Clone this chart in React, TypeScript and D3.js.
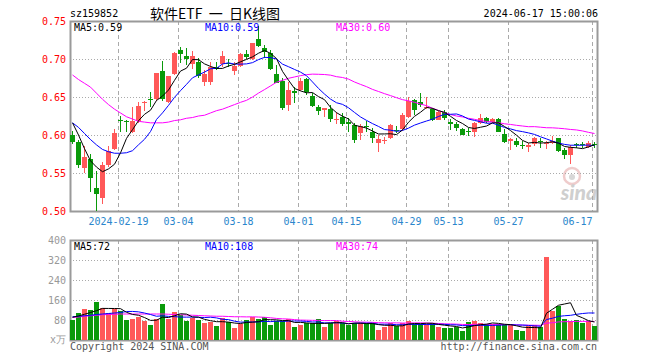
import { useEffect, useRef } from 'react';
import * as d3 from 'd3';

// daily candles, 2024-01-30 .. 2024-06-17 (88 trading days)
const opens = [
  0.600, 0.591, 0.557, 0.568, 0.530, 0.517, 0.5605, 0.5816, 0.620, 0.619,
  0.604, 0.618, 0.642, 0.648, 0.647, 0.684, 0.644, 0.680, 0.712, 0.704,
  0.693, 0.6965, 0.670, 0.670, 0.690, 0.693, 0.695, 0.6845, 0.691, 0.706,
  0.6995, 0.726, 0.714, 0.708, 0.680, 0.671, 0.640, 0.658, 0.659, 0.6737,
  0.651, 0.637, 0.633, 0.634, 0.6195, 0.624, 0.6175, 0.613, 0.603, 0.6125,
  0.6045, 0.589, 0.593, 0.5955, 0.6066, 0.6075, 0.6235, 0.646, 0.643, 0.635,
  0.6345, 0.620, 0.6305, 0.6175, 0.6145, 0.6075, 0.605, 0.6035, 0.6155, 0.622,
  0.6167, 0.621, 0.6013, 0.592, 0.592, 0.5875, 0.5846, 0.5877, 0.5917, 0.5882,
  0.589, 0.5956, 0.5803, 0.5737, 0.5877, 0.5877, 0.5846, 0.5882,
];
const highs = [
  0.605, 0.593, 0.585, 0.575, 0.552, 0.564, 0.585, 0.608, 0.625, 0.620,
  0.637, 0.644, 0.645, 0.656, 0.682, 0.698, 0.678, 0.709, 0.716, 0.714,
  0.7105, 0.701, 0.6855, 0.6965, 0.6965, 0.7105, 0.6995, 0.6965, 0.7075, 0.7125,
  0.7215, 0.743, 0.718, 0.7125, 0.692, 0.675, 0.670, 0.6635, 0.6745, 0.675,
  0.655, 0.640, 0.6355, 0.6395, 0.6305, 0.6295, 0.623, 0.6155, 0.614, 0.6185,
  0.609, 0.600, 0.597, 0.614, 0.612, 0.6285, 0.6495, 0.648, 0.655, 0.650,
  0.635, 0.631, 0.633, 0.6205, 0.6175, 0.609, 0.609, 0.6175, 0.627, 0.624,
  0.623, 0.6228, 0.608, 0.5956, 0.5956, 0.592, 0.589, 0.597, 0.5956, 0.5921,
  0.599, 0.596, 0.5833, 0.5868, 0.589, 0.5904, 0.5921, 0.5904,
];
const lows = [
  0.588, 0.557, 0.550, 0.525, 0.500, 0.509, 0.558, 0.5805, 0.604, 0.604,
  0.603, 0.616, 0.631, 0.637, 0.645, 0.645, 0.642, 0.679, 0.695, 0.692,
  0.687, 0.6745, 0.665, 0.666, 0.6855, 0.690, 0.690, 0.679, 0.690, 0.700,
  0.6985, 0.716, 0.701, 0.6855, 0.668, 0.633, 0.632, 0.6415, 0.658, 0.6526,
  0.637, 0.626, 0.624, 0.6175, 0.615, 0.612, 0.604, 0.590, 0.5935, 0.6045,
  0.589, 0.577, 0.588, 0.595, 0.603, 0.6055, 0.622, 0.6265, 0.637, 0.634,
  0.619, 0.6195, 0.620, 0.6065, 0.6055, 0.5995, 0.599, 0.598, 0.6145, 0.6155,
  0.6155, 0.6035, 0.589, 0.580, 0.5846, 0.581, 0.577, 0.586, 0.5825, 0.581,
  0.588, 0.578, 0.568, 0.5614, 0.5825, 0.583, 0.5825, 0.583,
];
const closes = [
  0.591, 0.5605, 0.5715, 0.544, 0.522, 0.5605, 0.579, 0.602, 0.619, 0.617,
  0.618, 0.638, 0.644, 0.646, 0.681, 0.647, 0.678, 0.7075, 0.707, 0.700,
  0.704, 0.677, 0.680, 0.690, 0.687, 0.704, 0.693, 0.691, 0.7065, 0.703,
  0.7205, 0.717, 0.7095, 0.687, 0.669, 0.636, 0.659, 0.655, 0.6715, 0.656,
  0.638, 0.632, 0.635, 0.621, 0.621, 0.6145, 0.6145, 0.5935, 0.612, 0.611,
  0.5955, 0.5945, 0.594, 0.6132, 0.6053, 0.6263, 0.645, 0.633, 0.640, 0.637,
  0.620, 0.630, 0.622, 0.614, 0.6095, 0.600, 0.604, 0.6155, 0.622, 0.6175,
  0.621, 0.6044, 0.5912, 0.5952, 0.5868, 0.5868, 0.5873, 0.5956, 0.5904, 0.5895,
  0.5921, 0.5789, 0.5737, 0.5846, 0.5864, 0.5868, 0.5899, 0.5877,
];
// volume, 10k shares
const volumes = [
  81, 108, 124, 120, 153, 127, 107, 123, 117, 80,
  84, 91, 77, 60, 84, 144, 84, 113, 100, 77,
  87, 81, 68, 73, 57, 87, 73, 49, 63, 80,
  91, 84, 91, 60, 77, 77, 84, 53, 61, 67,
  67, 84, 53, 67, 76, 67, 60, 67, 67, 67,
  67, 40, 53, 67, 56, 67, 76, 64, 64, 64,
  67, 52, 49, 49, 53, 38, 72, 76, 67, 63,
  63, 63, 59, 59, 40, 36, 56, 59, 51, 333,
  116, 136, 84, 76, 80, 68, 78, 58,
];

// averages at the left edge (their windows start before the first candle)
const ma5Head = [0.616, 0.600, 0.582, 0.566];
const ma10Head = [0.616, 0.610, 0.602, 0.594, 0.587, 0.581, 0.578, 0.576, 0.576];
const ma30Head = [
  0.679, 0.673, 0.668, 0.663, 0.655, 0.647, 0.640, 0.634, 0.629, 0.624,
  0.621, 0.618, 0.617, 0.616, 0.616, 0.616, 0.617, 0.619, 0.620, 0.622,
  0.623, 0.625, 0.626, 0.629, 0.632, 0.634, 0.637, 0.640, 0.643,
];
const volMa5Head = [91, 96, 103, 110];
const volMa10Head = [93, 95, 97, 99, 102, 104, 106, 108, 110];
const volMa30Head = [
  90, 92, 95, 97, 99, 101, 102, 103, 104, 104,
  104, 104, 104, 104, 104, 104, 103, 102, 101, 100,
  99, 98, 97, 96, 95, 95, 94, 93, 93,
];

const priceTicks = [0.5, 0.55, 0.6, 0.65, 0.7, 0.75];
const volTicks = [80, 160, 240, 320, 400];
const dateTickIdx = [8, 18, 28, 38, 46, 56, 63, 73, 87];
const dateTickLabels = ['2024-02-19', '03-04', '03-18', '04-01', '04-15', '04-29', '05-13', '05-27', '06-17'];

const movingAvg = (vals: number[], n: number, head: number[]) =>
  vals.map((_, i) => (i < head.length ? head[i] : (d3.mean(vals.slice(i - n + 1, i + 1)) as number)));

const App = () => {
  const ref = useRef<SVGSVGElement>(null);

  useEffect(() => {
    document.body.style.margin = '0';
    const svg = d3.select(ref.current);
    svg.selectAll('*').remove();

    const mono = '"DejaVu Sans Mono", monospace';
    const left = 70, right = 598;
    const pTop = 21, pBot = 211, vTop = 240, vBot = 340;
    const red = '#ff5858', green = '#0a9a0a', grid = '#aaaaaa';

    const n = closes.length;
    const x = d3.scaleBand<number>().domain(d3.range(n)).range([left, right])
      .paddingInner(1 / 6).paddingOuter(1 / 12).align(0);
    const cx = (i: number) => (x(i) as number) + x.bandwidth() / 2;
    const y = d3.scaleLinear().domain([0.5, 0.75]).range([pBot, pTop]);
    const vy = d3.scaleLinear().domain([0, 400]).range([vBot, vTop]);

    const up = (i: number) => closes[i] >= opens[i];

    // header
    svg.append('text').attr('x', 70).attr('y', 13).attr('dominant-baseline', 'central')
      .attr('font-family', mono).attr('font-size', 10).text('sz159852');
    svg.append('text').attr('x', 150).attr('y', 13).attr('dominant-baseline', 'central')
      .attr('font-family', '"Noto Sans CJK SC", sans-serif').attr('font-size', 14)
      .attr('xml:space', 'preserve').text('软件ETF  一  日K线图');
    svg.append('text').attr('x', right).attr('y', 13).attr('dominant-baseline', 'central')
      .attr('text-anchor', 'end').attr('font-family', mono).attr('font-size', 10).text('2024-06-17 15:00:06');

    // sina watermark
    const wm = svg.append('g').attr('opacity', 0.5);
    wm.append('circle').attr('cx', 572).attr('cy', 176).attr('r', 8)
      .attr('fill', 'none').attr('stroke', '#e09a9a').attr('stroke-width', 2.5);
    wm.append('circle').attr('cx', 572).attr('cy', 177).attr('r', 3).attr('fill', '#b0b0b0');
    wm.append('text').attr('x', 597).attr('y', 200).attr('text-anchor', 'end')
      .attr('font-family', 'Lato, sans-serif').attr('font-weight', 900).attr('font-style', 'italic')
      .attr('font-size', 21).attr('fill', '#a0a0a0').text('sina');

    // horizontal grid
    svg.append('g').selectAll('line').data(priceTicks.slice(1, -1)).join('line')
      .attr('x1', left).attr('x2', right).attr('y1', d => Math.round(y(d)) + 0.5).attr('y2', d => Math.round(y(d)) + 0.5)
      .attr('stroke', grid).attr('stroke-dasharray', '1,2');
    svg.append('g').selectAll('line').data(volTicks.slice(0, -1)).join('line')
      .attr('x1', left).attr('x2', right).attr('y1', d => vy(d) + 0.5).attr('y2', d => vy(d) + 0.5)
      .attr('stroke', grid).attr('stroke-dasharray', '1,2');

    // vertical dashed grid in both panels
    [[pTop, pBot], [vTop, vBot]].forEach(([t, b]) => {
      svg.append('g').selectAll('line').data(dateTickIdx).join('line')
        .attr('x1', d => (x(d) as number) + 0.5).attr('x2', d => (x(d) as number) + 0.5)
        .attr('y1', t).attr('y2', b)
        .attr('stroke', grid).attr('stroke-dasharray', '4,3');
    });

    // frames
    [[pTop, pBot], [vTop, vBot]].forEach(([t, b]) => {
      svg.append('rect').attr('x', left + 0.5).attr('y', t + 0.5)
        .attr('width', right - left - 1).attr('height', b - t)
        .attr('fill', 'none').attr('stroke', '#9a9a9a').attr('stroke-width', 2);
    });

    // y labels
    svg.append('g').selectAll('text').data(priceTicks).join('text')
      .attr('x', 66).attr('y', d => y(d)).attr('dominant-baseline', 'central').attr('text-anchor', 'end')
      .attr('font-family', mono).attr('font-size', 10).attr('fill', '#ff0000')
      .text(d => d.toFixed(2));
    svg.append('g').selectAll('text').data(volTicks).join('text')
      .attr('x', 66).attr('y', d => vy(d)).attr('dominant-baseline', 'central').attr('text-anchor', 'end')
      .attr('font-family', mono).attr('font-size', 10).attr('fill', '#999')
      .text(d => String(d));
    svg.append('text').attr('x', 66).attr('y', 339).attr('dominant-baseline', 'central').attr('text-anchor', 'end')
      .attr('font-family', mono).attr('font-size', 10).attr('fill', '#999').text('x万');

    // date labels
    svg.append('g').selectAll('text').data(dateTickIdx).join('text')
      .attr('x', d => (x(d) as number) + 0.5).attr('y', 221).attr('dominant-baseline', 'central')
      .attr('text-anchor', (d, k) => ((x(d) as number) + dateTickLabels[k].length * 3 > right ? 'end' : 'middle'))
      .attr('font-family', mono).attr('font-size', 10).attr('fill', '#2a86cc')
      .text((d, k) => dateTickLabels[k]);

    // candles
    const cg = svg.append('g').attr('shape-rendering', 'crispEdges');
    cg.selectAll('line').data(d3.range(n)).join('line')
      .attr('x1', d => Math.floor(cx(d)) + 0.5).attr('x2', d => Math.floor(cx(d)) + 0.5)
      .attr('y1', d => y(highs[d])).attr('y2', d => y(lows[d]))
      .attr('stroke', d => (up(d) ? red : green));
    cg.selectAll('rect').data(d3.range(n)).join('rect')
      .attr('x', d => x(d) as number).attr('width', x.bandwidth())
      .attr('y', d => y(Math.max(opens[d], closes[d])))
      .attr('height', d => Math.max(1, Math.abs(y(opens[d]) - y(closes[d]))))
      .attr('fill', d => (up(d) ? red : green));

    // volume bars
    svg.append('g').attr('shape-rendering', 'crispEdges')
      .selectAll('rect').data(d3.range(n)).join('rect')
      .attr('x', d => x(d) as number).attr('width', x.bandwidth())
      .attr('y', d => vy(volumes[d])).attr('height', d => vBot - vy(volumes[d]))
      .attr('fill', d => (up(d) ? red : green));

    // moving averages
    const priceMa = [
      { v: movingAvg(closes, 5, ma5Head), c: '#000000' },
      { v: movingAvg(closes, 10, ma10Head), c: '#0000ff' },
      { v: movingAvg(closes, 30, ma30Head), c: '#ff00ff' },
    ];
    const volMa = [
      { v: movingAvg(volumes, 5, volMa5Head), c: '#000000' },
      { v: movingAvg(volumes, 10, volMa10Head), c: '#0000ff' },
      { v: movingAvg(volumes, 30, volMa30Head), c: '#ff00ff' },
    ];
    const pLine = d3.line<number>().x((d, i) => cx(i)).y(d => y(d));
    const vLine = d3.line<number>().x((d, i) => cx(i)).y(d => vy(d));
    [...priceMa].reverse().forEach(m => {
      svg.append('path').datum(m.v).attr('d', pLine).attr('fill', 'none').attr('stroke', m.c).attr('stroke-width', 1);
    });
    [...volMa].reverse().forEach(m => {
      svg.append('path').datum(m.v).attr('d', vLine).attr('fill', 'none').attr('stroke', m.c).attr('stroke-width', 1);
    });

    // legends
    const legendX = [74, 205, 336];
    const names = ['MA5', 'MA10', 'MA30'];
    priceMa.forEach((m, k) => {
      svg.append('text').attr('x', legendX[k]).attr('y', 27).attr('dominant-baseline', 'central')
        .attr('font-family', mono).attr('font-size', 10).attr('fill', m.c)
        .text(`${names[k]}:${m.v[n - 1].toFixed(2)}`);
    });
    volMa.forEach((m, k) => {
      svg.append('text').attr('x', legendX[k]).attr('y', 246).attr('dominant-baseline', 'central')
        .attr('font-family', mono).attr('font-size', 10).attr('fill', m.c)
        .text(`${names[k]}:${Math.round(m.v[n - 1])}`);
    });

    // footer
    svg.append('text').attr('x', 70).attr('y', 346).attr('dominant-baseline', 'central')
      .attr('font-family', mono).attr('font-size', 10).attr('fill', '#555').text('Copyright 2024 SINA.COM');
    svg.append('text').attr('x', 597).attr('y', 346).attr('dominant-baseline', 'central').attr('text-anchor', 'end')
      .attr('font-family', mono).attr('font-size', 10).attr('fill', '#555').text('http://finance.sina.com.cn');
  }, []);

  return <svg ref={ref} width={660} height={360} style={{ display: 'block', background: '#fff' }} />;
};

export default App;
